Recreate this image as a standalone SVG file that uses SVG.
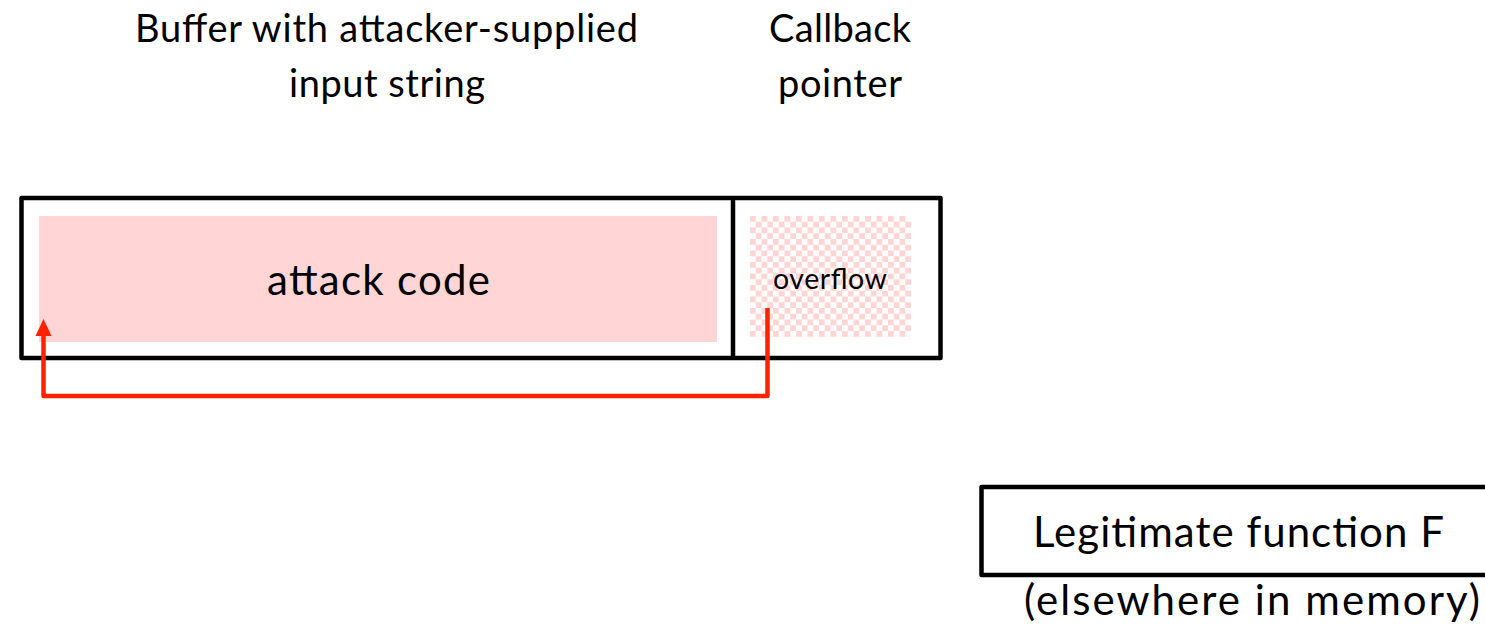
<svg xmlns="http://www.w3.org/2000/svg" width="1485" height="626" viewBox="0 0 1485 626">
  <style>
    .lbl { font-family: Lato, "Open Sans", "Liberation Sans", sans-serif; fill: #000; text-anchor: middle; }
    .head { font-size: 38px; }
    .code { font-size: 42px; }
    .small { font-size: 28.5px; }
    .note { font-size: 42px; }
    .frame { fill: none; stroke: #000; stroke-width: 4.5; stroke-linejoin: round; }
    .jump { fill: none; stroke: #FF2200; stroke-width: 4.5; stroke-linejoin: round; }
  </style>
  <defs>
    <pattern id="checker" x="750" y="216" width="11.5" height="11.5" patternUnits="userSpaceOnUse">
      <rect x="0" y="0" width="5.75" height="5.75" fill="#FFD5D5"/>
      <rect x="5.75" y="5.75" width="5.75" height="5.75" fill="#FFD5D5"/>
    </pattern>
  </defs>
  <rect width="1485" height="626" fill="#fff"/>

  <!-- header labels -->
  <g id="buffer-label">
    <text class="lbl head" x="386.5" y="42" textLength="503">Buffer with attacker-supplied</text>
    <text class="lbl head" x="387" y="97" textLength="196">input string</text>
  </g>
  <g id="callback-label">
    <text class="lbl head" x="840" y="42" textLength="142">Callback</text>
    <text class="lbl head" x="840" y="97" textLength="124">pointer</text>
  </g>

  <!-- memory layout: buffer + callback slot -->
  <g id="memory">
    <rect class="frame" x="21.5" y="198" width="919" height="160"/>
    <line class="frame" x1="733" y1="198" x2="733" y2="358"/>
  </g>
  <g id="attack-code">
    <rect x="39" y="216" width="678" height="126" fill="#FFD5D5"/>
    <text class="lbl code" x="378.5" y="295" textLength="223">attack code</text>
  </g>
  <g id="overflow">
    <rect x="750" y="216" width="161" height="121" fill="url(#checker)"/>
    <text class="lbl small" x="830" y="289" textLength="114">overflow</text>
  </g>

  <!-- target function elsewhere -->
  <g id="legit-function">
    <rect class="frame" x="981.5" y="487" width="600" height="88"/>
    <text class="lbl note" x="1238.5" y="547" textLength="411">Legitimate function F</text>
    <text class="lbl note" x="1252" y="615" textLength="456">(elsewhere in memory)</text>
  </g>

  <!-- overwritten pointer redirects to attack code -->
  <g id="connectors">
    <path class="jump" d="M767.5,308 V396 H43.5 V334" />
    <path d="M35.5,336 L43.5,319 L51.5,336 Z" fill="#FF2200"/>
  </g>
</svg>
